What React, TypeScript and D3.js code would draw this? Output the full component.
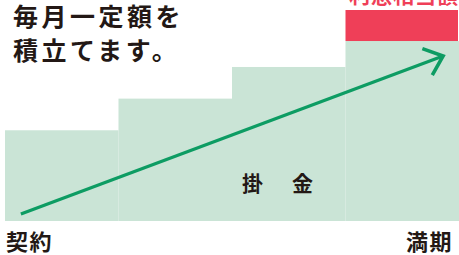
import React from "react";
import * as d3 from "d3";

const periods = ["p1", "p2", "p3", "p4"];
const savings = [43, 58, 73, 85.3];
const interest = 14.7;
const arrowFrom = [0.035, 3.3];
const arrowTo = [0.965, 78.2];
const titleLines = ["毎月一定額を", "積立てます。"];
const interestLabel = "利息相当額";
const savingsLabel = "掛　金";
const startLabel = "契約";
const endLabel = "満期";

const W = 459;
const H = 255;
const FONT = "'Noto Sans CJK JP', 'Noto Sans', sans-serif";

export default function App() {
  const x = d3.scaleBand<string>().domain(periods).range([5, 459]).padding(0);
  const xl = d3.scaleLinear().domain([0, 1]).range([5, 459]);
  const y = d3.scaleLinear().domain([0, 100]).range([221, 10]);

  const x1 = xl(arrowFrom[0]), y1 = y(arrowFrom[1]);
  const x2 = xl(arrowTo[0]), y2 = y(arrowTo[1]);
  const ang = Math.atan2(y2 - y1, x2 - x1);
  const armLen = 22;
  const armAng = (40 * Math.PI) / 180;
  const a1 = [x2 - armLen * Math.cos(ang - armAng), y2 - armLen * Math.sin(ang - armAng)];
  const a2 = [x2 - armLen * Math.cos(ang + armAng), y2 - armLen * Math.sin(ang + armAng)];
  const last = periods[periods.length - 1];
  const lastTop = savings[savings.length - 1];

  return (
    <svg width={W} height={H} style={{ position: "absolute", left: 0, top: 0, display: "block" }}>
      <rect width={W} height={H} fill="#fff" />
      {periods.map((p, i) => (
        <rect
          key={p}
          x={x(p)}
          y={y(savings[i])}
          width={x.bandwidth()}
          height={y(0) - y(savings[i])}
          fill="#cae4d6"
        />
      ))}
      <rect
        x={x(last)}
        y={y(lastTop + interest)}
        width={x.bandwidth() - 1}
        height={y(lastTop) - y(lastTop + interest)}
        fill="#ef3f58"
      />
      <line x1={x1} y1={y1} x2={x2} y2={y2} stroke="#0d9c63" strokeWidth={3.2} />
      <polyline
        points={`${a1[0]},${a1[1]} ${x2},${y2} ${a2[0]},${a2[1]}`}
        fill="none"
        stroke="#0d9c63"
        strokeWidth={3.6}
        strokeLinejoin="miter"
      />
      <g fontFamily={FONT} fontWeight="bold" fill="#231815">
        {titleLines.map((t, i) => (
          <text key={i} x={13} y={26 + i * 34} fontSize={25} letterSpacing={3.5}>
            {t}
          </text>
        ))}
        <text x={242} y={191} fontSize={21} letterSpacing={4}>
          {savingsLabel}
        </text>
        <text x={6} y={250} fontSize={22} letterSpacing={1.5}>
          {startLabel}
        </text>
        <text x={406} y={250} fontSize={22} letterSpacing={1.5}>
          {endLabel}
        </text>
        <text x={349} y={3} fontSize={21} fill="#ef3f58" letterSpacing={1}>
          {interestLabel}
        </text>
      </g>
    </svg>
  );
}
